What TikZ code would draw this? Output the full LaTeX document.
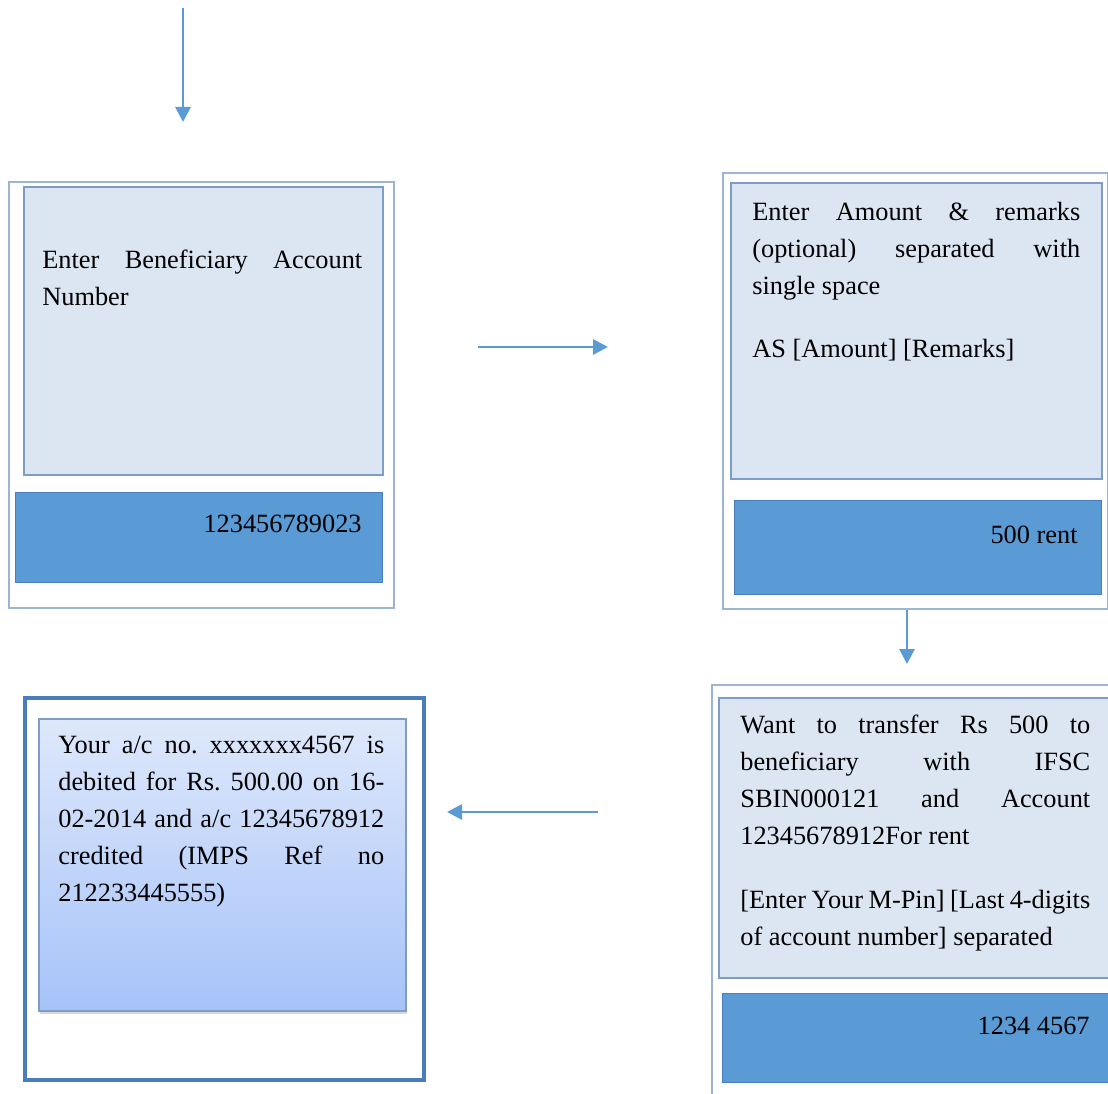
\documentclass[tikz,border=0pt]{standalone}
\usepackage{fontspec}
\setmainfont{Liberation Serif}
\usetikzlibrary{arrows.meta,shadows}

\definecolor{screenfill}{HTML}{DCE6F2}
\definecolor{screenline}{HTML}{7F9CC4}
\definecolor{barfill}{HTML}{5B9BD5}
\definecolor{barline}{HTML}{4A7EBB}
\definecolor{frameline}{HTML}{9DB5D4}
\definecolor{flowblue}{HTML}{5B9BD5}
\definecolor{smstop}{HTML}{DEE8FB}
\definecolor{smsbottom}{HTML}{A6C3F9}

\tikzset{
  frame/.style={draw=frameline,line width=1.2pt,fill=white,anchor=north west,inner sep=0pt},
  screen/.style={draw=screenline,line width=0.9pt,fill=screenfill,anchor=north west,inner sep=0pt},
  inputbar/.style={draw=barline,line width=0.6pt,fill=barfill,anchor=north west,inner sep=0pt},
  msg/.style={anchor=north west,inner sep=0pt,align=justify,font=\fontsize{15}{21}\selectfont\frenchspacing},
  entry/.style={anchor=base east,inner sep=0pt,font=\fontsize{15}{21}\selectfont},
  flow/.style={draw=flowblue,line width=1.6pt,-{Triangle[length=0.3cm,width=0.3cm]}}
}

\begin{document}
\begin{tikzpicture}[x=0.02cm,y=-0.02cm]
  \clip (0,0) rectangle (1108,1094);

  % account number screen
  \node[frame,minimum width=7.70cm,minimum height=8.52cm] (frameA) at (8,181) {};
  \node[screen,minimum width=7.18cm,minimum height=5.76cm] (screenA) at (23,186) {};
  \node[inputbar,minimum width=7.34cm,minimum height=1.80cm] (barA) at (15,492) {};
  \node[msg,text width=6.4cm] (textA) at (42,250) {Enter Beneficiary Account\linebreak Number};
  \node[entry] (inA) at (362,532) {123456789023};

  % amount screen
  \node[frame,minimum width=7.70cm,minimum height=8.72cm] (frameB) at (722,172) {};
  \node[screen,minimum width=7.42cm,minimum height=5.92cm] (screenB) at (730,182) {};
  \node[inputbar,minimum width=7.34cm,minimum height=1.88cm] (barB) at (734,500) {};
  \node[msg,text width=6.56cm] (textB) at (752,202) {Enter Amount \& remarks\linebreak (optional) separated with\linebreak single space\par\vspace{0.52cm}\noindent AS [Amount] [Remarks]};
  \node[entry] (inB) at (1078,543) {500 rent};

  % confirmation screen
  \node[frame,minimum width=8.40cm,minimum height=9.00cm] (frameC) at (711,684) {};
  \node[screen,minimum width=8.20cm,minimum height=5.60cm] (screenC) at (718,697) {};
  \node[inputbar,minimum width=8.20cm,minimum height=1.78cm] (barC) at (722,993) {};
  \node[msg,text width=7.0cm] (textC) at (740,715) {Want to transfer Rs 500 to\linebreak beneficiary with IFSC\linebreak SBIN000121 and Account\linebreak 12345678912For rent\par\vspace{0.54cm}\noindent [Enter Your M-Pin] [Last 4-digits\linebreak of account number] separated};
  \node[entry] (inC) at (1090,1034) {1234 4567};

  % result sms
  \node[frame,draw=barline,line width=2.2pt,minimum width=7.98cm,minimum height=7.64cm] (frameD) at (23,696) {};
  \node[anchor=north west,inner sep=0pt,draw=screenline,line width=0.9pt,top color=smstop,bottom color=smsbottom,
        drop shadow={shadow xshift=0.03cm,shadow yshift=-0.07cm,opacity=0.3},minimum width=7.34cm,minimum height=5.84cm] (screenD) at (38,718) {};
  \node[msg,text width=6.52cm] (textD) at (58,736) {Your a/c no. xxxxxxx4567 is\linebreak debited for Rs. 500.00 on 16-\linebreak 02-2014 and a/c 12345678912\linebreak credited (IMPS Ref no\linebreak 212233445555)};

  % flow arrows
  \coordinate (startTop) at (183,8);
  \coordinate (endTop) at (183,122);
  \coordinate (rightFrom) at (478,347);
  \coordinate (rightTo) at (608,347);
  \coordinate (downTo) at (907,664);
  \coordinate (leftFrom) at (598,812);
  \coordinate (leftTo) at (447,812);
  \draw[flow] (startTop) -- (endTop);
  \draw[flow] (rightFrom) -- (rightTo);
  \draw[flow] (frameB.south -| downTo) -- (downTo);
  \draw[flow] (leftFrom) -- (leftTo);
\end{tikzpicture}
\end{document}
